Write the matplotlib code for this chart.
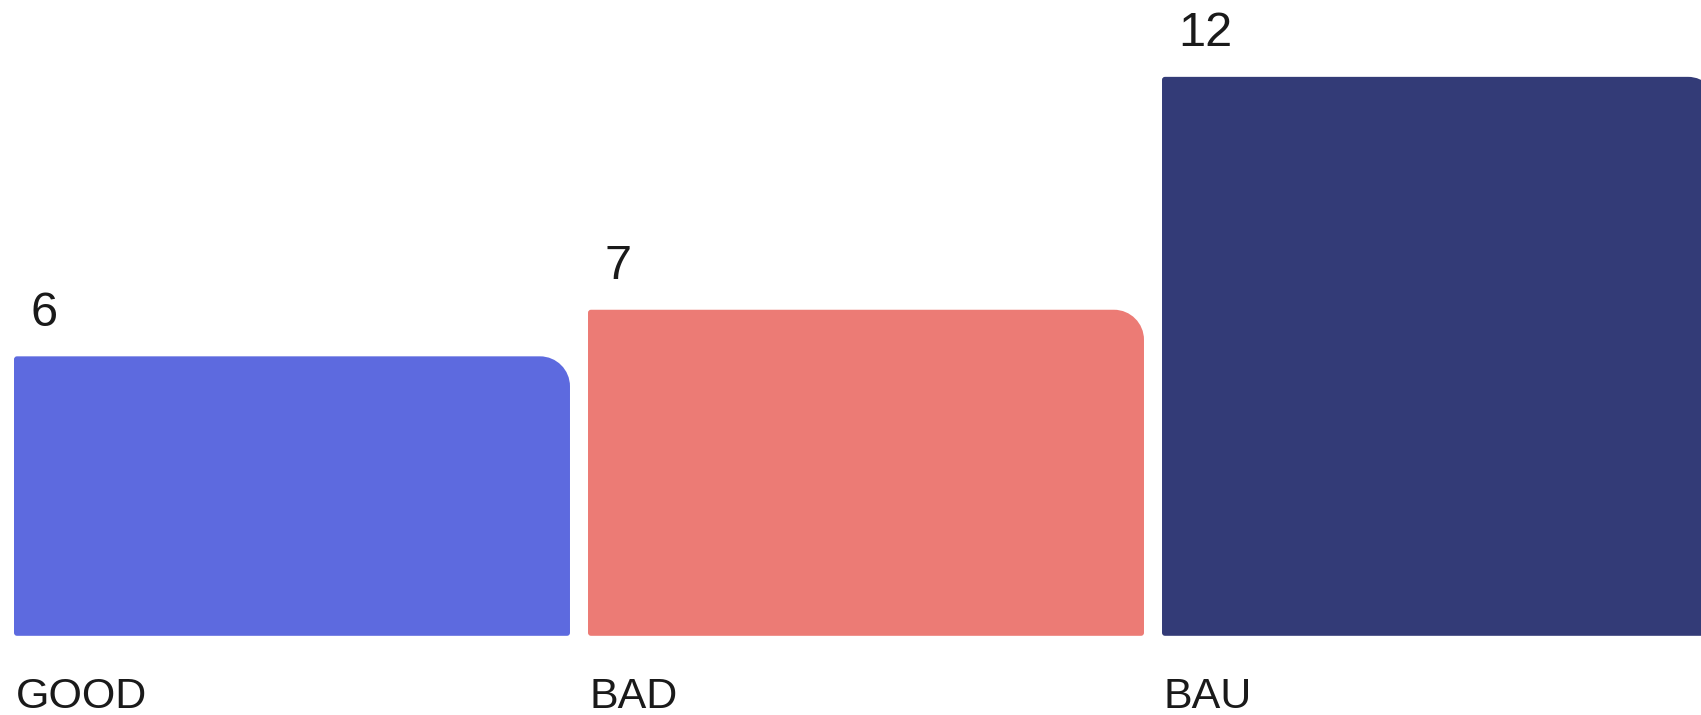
import numpy as np
import matplotlib
matplotlib.use('Agg')
import matplotlib.pyplot as plt
from matplotlib.path import Path
from matplotlib.patches import PathPatch

# Data
categories = ['GOOD', 'BAD', 'BAU']
values = [6, 7, 12]
value_labels = ['6', '7', '12']
colors = ['#5D6ADF', '#EC7B75', '#333B77']

plt.rcParams['font.family'] = ['Liberation Sans', 'DejaVu Sans']

fig = plt.figure(figsize=(17.01, 7.15), dpi=100)
ax = fig.add_axes([0, 0, 1, 1])

x = np.arange(len(categories))
bar_width = 0.9686
bars = ax.bar(x, values, width=bar_width, color=colors)

ax.set_xlim(-0.5087, 2.4547)
ax.set_ylim(-1.70, 13.65)
ax.set_axis_off()

# pixel -> data conversion for corner radii
p0 = ax.transData.transform((0, 0))
p1 = ax.transData.transform((1, 1))
px_x = p1[0] - p0[0]
px_y = p1[1] - p0[1]

big_r = 30   # px, top-right corner
small_r = 3  # px, other corners
k = 0.5523


def rounded_bar(x0, y0, w, h, color):
    x1, y1 = x0 + w, y0 + h
    rx, ry = big_r / px_x, big_r / px_y
    sx, sy = small_r / px_x, small_r / px_y
    verts = [
        (x0 + sx, y0),
        (x1 - sx, y0),
        (x1, y0), (x1, y0 + sy),
        (x1, y1 - ry),
        (x1, y1 - ry * (1 - k)), (x1 - rx * (1 - k), y1), (x1 - rx, y1),
        (x0 + sx, y1),
        (x0, y1), (x0, y1 - sy),
        (x0, y0 + sy),
        (x0, y0), (x0 + sx, y0),
        (x0 + sx, y0),
    ]
    codes = [
        Path.MOVETO,
        Path.LINETO,
        Path.CURVE3, Path.CURVE3,
        Path.LINETO,
        Path.CURVE4, Path.CURVE4, Path.CURVE4,
        Path.LINETO,
        Path.CURVE3, Path.CURVE3,
        Path.LINETO,
        Path.CURVE3, Path.CURVE3,
        Path.CLOSEPOLY,
    ]
    patch = PathPatch(Path(verts, codes), facecolor=color, edgecolor='none')
    ax.add_patch(patch)


for bar, color, lab, cat in zip(bars, colors, value_labels, categories):
    bx, bw, bh = bar.get_x(), bar.get_width(), bar.get_height()
    bar.set_visible(False)
    rounded_bar(bx, 0, bw, bh, color)
    # value label above bar
    ax.annotate(lab, xy=(bx, bh), xytext=(12, 22), textcoords='offset points',
                ha='left', va='baseline', fontsize=35, color='#1a1a1a')
    # category label below bar
    ax.annotate(cat, xy=(bx, 0), xytext=(1, -52), textcoords='offset points',
                ha='left', va='baseline', fontsize=31, color='#1a1a1a')

fig.savefig('out.png', dpi=100, facecolor='white')
